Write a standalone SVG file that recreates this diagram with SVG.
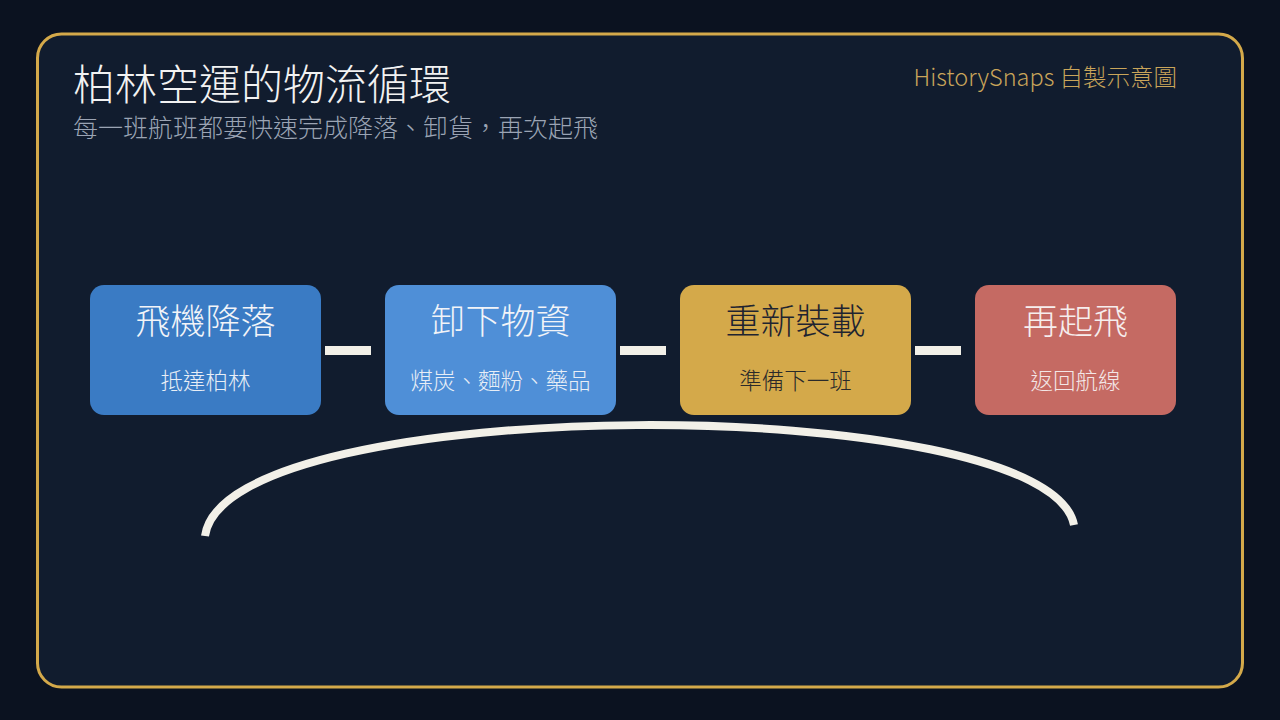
<svg xmlns="http://www.w3.org/2000/svg" width="1280" height="720" viewBox="0 0 1280 720">
  <defs>
    <style>
      .cjk { font-family: "Noto Sans CJK TC", "Noto Sans CJK SC", "Noto Sans", sans-serif; font-weight: 200; }
      .ttl { font-size: 35px; text-anchor: middle; }
      .sub { font-size: 22.5px; text-anchor: middle; }
      .bar { fill: #f2f0e8; }
    </style>
  </defs>
  <rect x="0" y="0" width="1280" height="720" fill="#0b1220"/>
  <rect x="37.5" y="34" width="1205" height="653" rx="24" ry="24" fill="#111c2e" stroke="#d4a94a" stroke-width="3"/>

  <g id="header">
    <text class="cjk" x="73" y="100" font-size="42" fill="#f2f2f2">柏林空運的物流循環</text>
    <text class="cjk" x="73" y="137" font-size="25" fill="#9ba4b4">每一班航班都要快速完成降落、卸貨，再次起飛</text>
    <text class="cjk" x="1177" y="86" font-size="23.5" fill="#c9a55a" text-anchor="end">HistorySnaps 自製示意圖</text>
  </g>

  <g id="connectors">
    <rect class="bar" x="325" y="346" width="46" height="9"/>
    <rect class="bar" x="620" y="346" width="46" height="9"/>
    <rect class="bar" x="915" y="346" width="46" height="9"/>
    <path d="M 205 536 C 225 390, 1048 390, 1074 525" fill="none" stroke="#f2f0e8" stroke-width="8"/>
  </g>

  <g id="node1">
    <rect x="90" y="285" width="231" height="130" rx="14" fill="#3a7bc4"/>
    <text class="cjk ttl" x="205.5" y="334" fill="#f2f4f8">飛機降落</text>
    <text class="cjk sub" x="205.5" y="389" fill="#e8eef6">抵達柏林</text>
  </g>
  <g id="node2">
    <rect x="385" y="285" width="231" height="130" rx="14" fill="#4f8fd7"/>
    <text class="cjk ttl" x="500.5" y="334" fill="#f2f4f8">卸下物資</text>
    <text class="cjk sub" x="500.5" y="389" fill="#e8eef6">煤炭、麵粉、藥品</text>
  </g>
  <g id="node3">
    <rect x="680" y="285" width="231" height="130" rx="14" fill="#d4a94a"/>
    <text class="cjk ttl" x="795.5" y="334" fill="#1f2430">重新裝載</text>
    <text class="cjk sub" x="795.5" y="389" fill="#2a2a2a">準備下一班</text>
  </g>
  <g id="node4">
    <rect x="975" y="285" width="201" height="130" rx="14" fill="#c56a63"/>
    <text class="cjk ttl" x="1075.5" y="334" fill="#f6eeee">再起飛</text>
    <text class="cjk sub" x="1075.5" y="389" fill="#f3e6e6">返回航線</text>
  </g>
</svg>
